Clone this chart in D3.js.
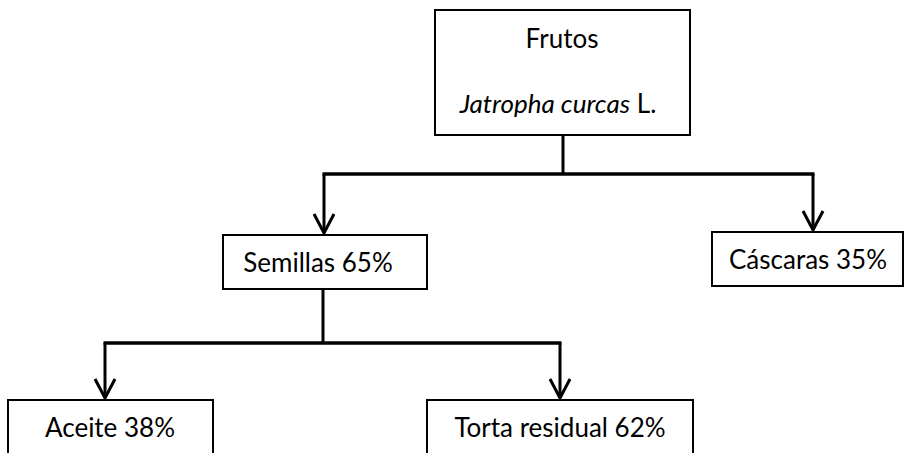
<!DOCTYPE html>
<html>
<head>
<meta charset="utf-8">
<script src="https://cdn.jsdelivr.net/npm/d3@7"></script>
<style>
    html, body { margin: 0; padding: 0; background: #fff; overflow: hidden; }
    svg { display: block; }
    text { font-family: Lato, "Open Sans", sans-serif; fill: #000; }
</style>
</head>
<body>
<div id="chart"></div>
<script>
// 節點資料
const names = ["Frutos", "Semillas", "Cáscaras", "Aceite", "Torta residual"];
const parents = ["", "Frutos", "Frutos", "Semillas", "Semillas"];
const percents = [null, 65, 35, 38, 62];

// 版面設定（每個方塊的位置）
const layout = {
    "Frutos":         { x0: 435, x1: 690, y0: 10,  y1: 135, stem: 563, bus: 174 },
    "Semillas":       { x0: 223, x1: 427, y0: 235, y1: 289, stem: 323, bus: 343, anchor: 324, tx: 318 },
    "Cáscaras":       { x0: 712, x1: 903, y0: 232, y1: 286, anchor: 813, tx: 808 },
    "Aceite":         { x0: 8,   x1: 213, y0: 400, y1: 456, anchor: 105, tx: 110 },
    "Torta residual": { x0: 427, x1: 693, y0: 400, y1: 456, anchor: 560, tx: 560 }
};

const width = 904, height = 453;
const fontSize = 26;

const root = d3.stratify()
    .id(d => d.name)
    .parentId(d => d.parent || null)(
        names.map((n, i) => ({ name: n, parent: parents[i], pct: percents[i] }))
    );

const svg = d3.select("#chart")
    .append("svg")
    .attr("width", width)
    .attr("height", height);

// 連接線：父節點下方的直線 + 水平匯流線
root.descendants().filter(d => d.children).forEach(p => {
    const L = layout[p.id];
    const xs = p.children.map(c => layout[c.id].anchor);

    svg.append("line")
        .attr("x1", L.stem).attr("x2", L.stem)
        .attr("y1", L.y1).attr("y2", L.bus)
        .attr("stroke", "#000").attr("stroke-width", 3);

    svg.append("line")
        .attr("x1", d3.min(xs) - 1.5).attr("x2", d3.max(xs) + 1.5)
        .attr("y1", L.bus).attr("y2", L.bus)
        .attr("stroke", "#000").attr("stroke-width", 3.5);
});

// 箭頭
const arrow = svg.selectAll("g.arrow")
    .data(root.descendants().filter(d => d.parent))
    .enter()
    .append("g")
    .attr("class", "arrow")
    .attr("fill", "none")
    .attr("stroke", "#000")
    .attr("stroke-width", 3);

arrow.append("line")
    .attr("x1", d => layout[d.id].anchor)
    .attr("x2", d => layout[d.id].anchor)
    .attr("y1", d => layout[d.parent.id].bus)
    .attr("y2", d => layout[d.id].y0 - 2);

arrow.append("path")
    .attr("d", d => {
        const x = layout[d.id].anchor, y = layout[d.id].y0 - 2;
        return `M${x - 10},${y - 19}L${x},${y}L${x + 10},${y - 19}`;
    });

// 方塊
const node = svg.selectAll("g.node")
    .data(root.descendants())
    .enter()
    .append("g")
    .attr("class", "node");

node.append("rect")
    .attr("x", d => layout[d.id].x0)
    .attr("y", d => layout[d.id].y0)
    .attr("width", d => layout[d.id].x1 - layout[d.id].x0)
    .attr("height", d => layout[d.id].y1 - layout[d.id].y0)
    .attr("fill", "#fff")
    .attr("stroke", "#000")
    .attr("stroke-width", 2);

// 子節點文字
node.filter(d => d.parent)
    .append("text")
    .attr("x", d => layout[d.id].tx)
    .attr("y", d => layout[d.id].y0 + 37)
    .attr("text-anchor", "middle")
    .attr("font-size", fontSize)
    .text(d => `${d.id} ${d.data.pct}%`);

// 根節點文字
const rootBox = layout["Frutos"];
svg.append("text")
    .attr("x", 562)
    .attr("y", rootBox.y0 + 38)
    .attr("text-anchor", "middle")
    .attr("font-size", fontSize)
    .text(root.id);

const species = svg.append("text")
    .attr("x", 558)
    .attr("y", rootBox.y0 + 103)
    .attr("text-anchor", "middle")
    .attr("font-size", fontSize);
species.append("tspan").attr("font-style", "italic").text("Jatropha curcas");
species.append("tspan").text(" L.");
</script>
</body>
</html>
